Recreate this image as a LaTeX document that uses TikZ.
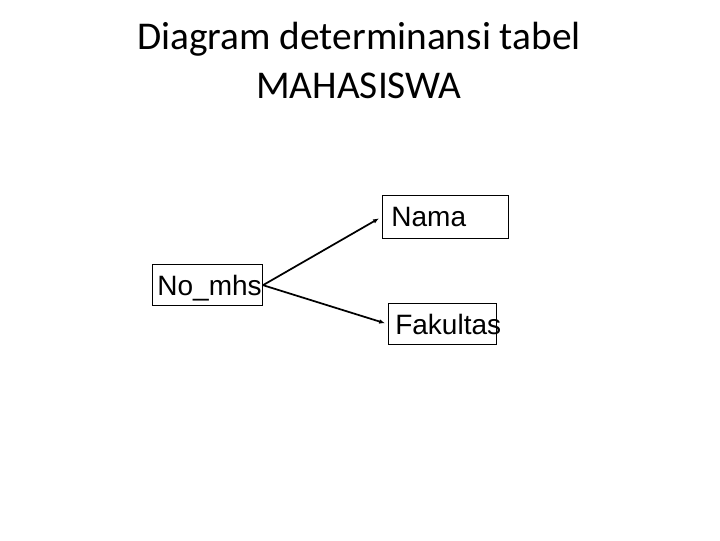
\documentclass[tikz,border=0pt]{standalone}
\usepackage{fontspec}
\usepackage{tikz}
\setmainfont{Carlito}
\newfontfamily\boxfont{Liberation Sans}
\usetikzlibrary{arrows.meta}

\tikzset{
  entity/.style={draw, line width=0.75pt, anchor=north west, inner ysep=0pt,
    text height=23.5pt, text depth=7.5pt, align=left,
    font=\boxfont\fontsize{21}{25}\selectfont},
  determines/.style={line width=1.3pt, -{Latex[length=4.5pt,width=3.5pt]}, shorten >=2.25pt}
}

\begin{document}
\begin{tikzpicture}[x=0.75pt,y=0.75pt,yscale=-1,xscale=1]
%set diagram left start at 0, and has height of 540
\useasboundingbox (0,0) rectangle (720,540);

% Text Node
\node [anchor=base, align=center, inner sep=0pt, font=\fontsize{29.5}{36.75}\selectfont] (title) at (359,98) {Diagram determinansi tabel\\MAHASISWA};

%Shape: Rectangle
\node [entity, inner xsep=6.9pt, text width=80.9pt, text depth=8.5pt] (nama) at (381.7,195) {Nama};
%Shape: Rectangle
\node [entity, inner xsep=3.7pt, text width=75.1pt] (nomhs) at (152,264) {No\_mhs};
%Shape: Rectangle
\node [entity, inner xsep=5.1pt, text width=70.8pt] (fakultas) at (388,303) {Fakultas};

%Straight Lines
\draw [determines] (nomhs.east) -- (nama.west) ;
%Straight Lines
\draw [determines] (nomhs.east) -- (fakultas.west) ;

\end{tikzpicture}
\end{document}
